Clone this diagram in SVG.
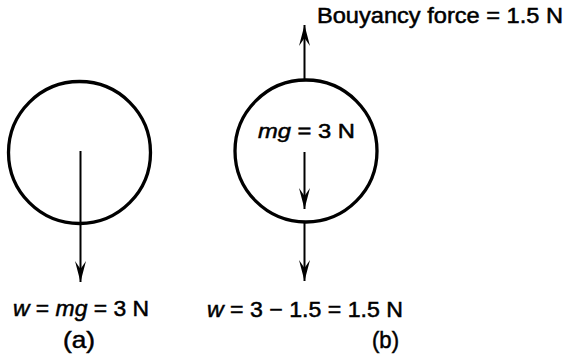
<svg xmlns="http://www.w3.org/2000/svg" width="567" height="357" viewBox="0 0 567 357">
<style>
.body{fill:none;stroke:#000;stroke-width:3.3}
.force{stroke:#000;stroke-width:2;fill:none;marker-end:url(#head)}
text{font-family:"Liberation Sans",Arial,sans-serif;fill:#000;stroke:#000;stroke-width:0.5}
.it{font-style:italic}
</style>
<defs>
<marker id="head" markerUnits="userSpaceOnUse" markerWidth="24" markerHeight="14" viewBox="-21 -7 22 14" refX="0" refY="0" orient="auto" overflow="visible">
<path d="M0,0 L-21,-5.5 L-13,0 L-21,5.5 Z" fill="#000"/>
</marker>
</defs>
<rect width="567" height="357" fill="#fff"/>
<g id="ball-a">
<circle class="body" cx="79.5" cy="152.5" r="71"/>
</g>
<g id="ball-b">
<circle class="body" cx="306" cy="151" r="71"/>
</g>
<g id="connectors">
<line class="force" x1="80.5" y1="151" x2="80.5" y2="282"/>
<line class="force" x1="304.5" y1="79" x2="304.5" y2="25"/>
<line class="force" x1="304.5" y1="152" x2="304.5" y2="209"/>
<line class="force" x1="304.5" y1="222" x2="304.5" y2="281"/>
</g>
<g id="labels">
<text x="317" y="23" font-size="22" textLength="246" lengthAdjust="spacingAndGlyphs">Bouyancy force = 1.5 N</text>
<text x="258" y="138" font-size="21" textLength="97" lengthAdjust="spacingAndGlyphs"><tspan class="it">mg</tspan> = 3 N</text>
<text x="13" y="316" font-size="22" textLength="136" lengthAdjust="spacingAndGlyphs"><tspan class="it">w</tspan> = <tspan class="it">mg</tspan> = 3 N</text>
<text x="207" y="317" font-size="22" textLength="196" lengthAdjust="spacingAndGlyphs"><tspan class="it">w</tspan> = 3 − 1.5 = 1.5 N</text>
<text x="63" y="348" font-size="24" textLength="32" lengthAdjust="spacingAndGlyphs">(a)</text>
<text x="372" y="348" font-size="24" textLength="27" lengthAdjust="spacingAndGlyphs">(b)</text>
</g>
</svg>
